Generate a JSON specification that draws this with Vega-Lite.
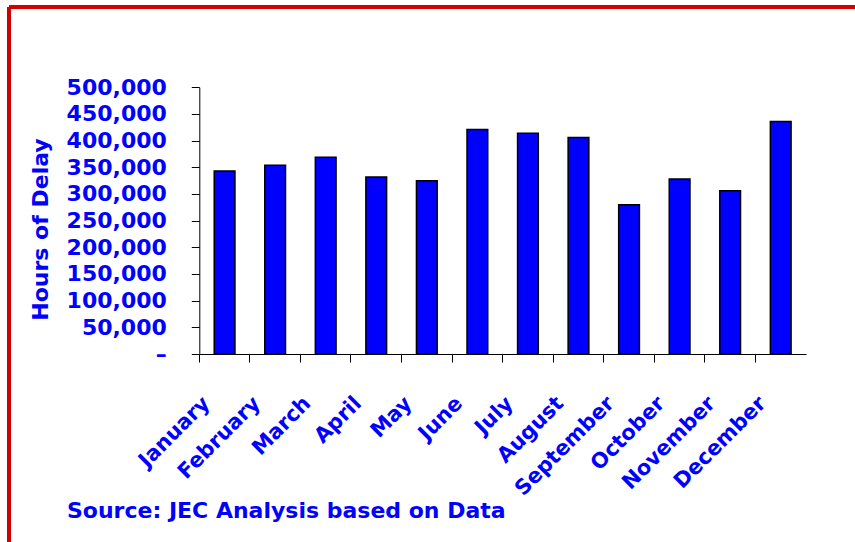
{
  "$schema": "https://vega.github.io/schema/vega-lite/v6.json",
  "width": 846,
  "height": 535,
  "autosize": {"type": "none"},
  "padding": {"left": 9, "top": 7, "right": 0, "bottom": 0},
  "background": "white",
  "config": {
    "view": {"stroke": "#d40000", "strokeWidth": 4, "strokeDash": [846, 1381, 535, 0]},
    "font": "DejaVu Sans"
  },
  "title": {
    "text": "Source: JEC Analysis based on Data",
    "orient": "bottom",
    "anchor": "start",
    "frame": "group",
    "offset": -24,
    "dx": 58,
    "baseline": "alphabetic",
    "font": "DejaVu Sans",
    "fontSize": 22,
    "fontWeight": "bold",
    "color": "#0000ff"
  },
  "data": {
    "values": [
      {"month": "January", "hours": 343000},
      {"month": "February", "hours": 354000},
      {"month": "March", "hours": 369000},
      {"month": "April", "hours": 332000},
      {"month": "May", "hours": 325000},
      {"month": "June", "hours": 421000},
      {"month": "July", "hours": 414000},
      {"month": "August", "hours": 406000},
      {"month": "September", "hours": 280000},
      {"month": "October", "hours": 328000},
      {"month": "November", "hours": 306000},
      {"month": "December", "hours": 436000}
    ]
  },
  "mark": {"type": "bar", "fill": "#0000ff", "stroke": "#000000", "strokeWidth": 1.5},
  "encoding": {
    "x": {
      "field": "month",
      "type": "nominal",
      "sort": null,
      "scale": {"range": [190.3, 797], "paddingInner": 0.59, "paddingOuter": 0.295},
      "axis": {
        "title": null,
        "offset": -188,
        "bandPosition": -0.7195,
        "labelAngle": -45,
        "labelAlign": "right",
        "labelBaseline": "middle",
        "labelPadding": 38,
        "labelOffset": -18,
        "labelFont": "DejaVu Sans",
        "labelFontSize": 21,
        "labelFontWeight": "bold",
        "labelColor": "#0000ff",
        "tickSize": 8,
        "tickColor": "#000000",
        "domainColor": "#000000",
        "grid": false
      }
    },
    "y": {
      "field": "hours",
      "type": "quantitative",
      "scale": {"domain": [0, 500000], "range": [347, 80.3], "nice": false, "zero": true},
      "axis": {
        "title": "Hours of Delay",
        "offset": -190.3,
        "values": [0, 50000, 100000, 150000, 200000, 250000, 300000, 350000, 400000, 450000, 500000],
        "labelExpr": "datum.value === 0 ? '–' : format(datum.value, ',')",
        "labelFont": "DejaVu Sans",
        "labelFontSize": 22,
        "labelFontWeight": "bold",
        "labelColor": "#0000ff",
        "labelPadding": 25,
        "labelBaseline": "middle",
        "tickSize": 8,
        "tickColor": "#000000",
        "domainColor": "#000000",
        "grid": false,
        "titleFont": "DejaVu Sans",
        "titleFontSize": 22,
        "titleFontWeight": "bold",
        "titleColor": "#0000ff",
        "titleAngle": 270,
        "titleAlign": "center",
        "titleBaseline": "alphabetic",
        "titleX": -152,
        "titleY": 222
      }
    }
  }
}
